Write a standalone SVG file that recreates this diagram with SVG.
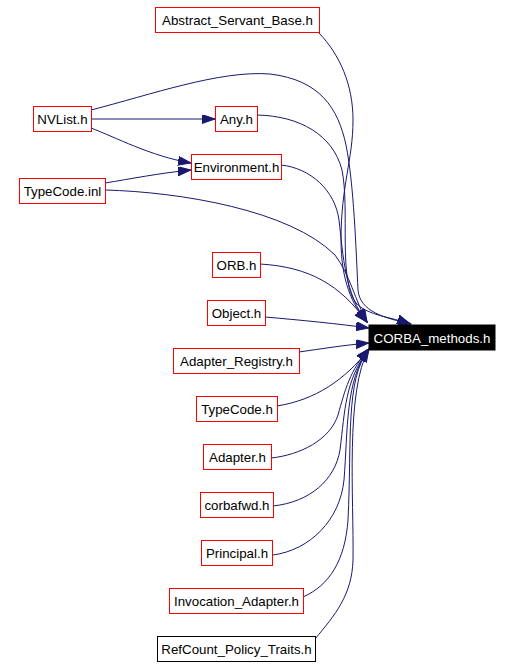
<svg xmlns="http://www.w3.org/2000/svg" width="512" height="667" viewBox="0 0 512 667">
<style>
  .node rect { fill: #ffffff; stroke: #ff0000; stroke-width: 1; }
  .node text { font-family: "Liberation Sans", Arial, sans-serif; font-size: 13.3px; fill: #000000; text-anchor: middle; }
  #n_refcount rect { stroke: #000000; }
  #n_corba rect { fill: #000000; stroke: #000000; }
  #n_corba text { fill: #ffffff; }
  .edges path { fill: none; stroke: #191970; stroke-width: 1; marker-end: url(#arrow); }
</style>
<defs>
  <marker id="arrow" markerUnits="userSpaceOnUse" markerWidth="14" markerHeight="10" refX="13" refY="4.5" orient="auto">
    <polygon points="0,0 13,4.5 0,9" fill="#191970" stroke="#191970" stroke-width="1"/>
  </marker>
</defs>
<rect x="0" y="0" width="512" height="667" fill="#ffffff"/>
<g class="edges" id="edges">
  <path d="M91,119 L215,119"/>
  <path d="M91,128 C115,137 150,156 191,163"/>
  <path d="M105,183 C130,179 160,173 191,170"/>
  <path d="M91,110 C150,95 220,70 270,74 C320,80 338,108 346,145 C354,185 356,250 358,290 C360,312 385,318 411,324"/>
  <path d="M257,115 C300,116 333,135 342,170 C350,210 338,280 356,303 C368,316 392,317 410,324"/>
  <path d="M319,33 C340,55 353,85 353,120 C353,160 341,185 341,240 C341,280 352,305 367,322"/>
  <path d="M281,165 C310,168 335,190 339,220 C343,255 345,295 367,322"/>
  <path d="M105,190 C180,192 290,210 335,255 C350,275 355,300 367,322"/>
  <path d="M260,264 C310,267 340,285 367,322"/>
  <path d="M265,317 C300,320 340,324 369,328"/>
  <path d="M299,352 C320,349 345,345 369,343"/>
  <path d="M277,406 C315,400 345,380 369,349"/>
  <path d="M271,458 C300,455 330,440 338,415 C345,390 350,370 369,349"/>
  <path d="M273,506 C310,502 335,480 340,450 C345,410 345,380 369,349"/>
  <path d="M273,555 C310,550 340,520 344,480 C348,430 345,380 369,349"/>
  <path d="M303,597 C330,585 345,560 348,520 C352,440 345,380 369,349"/>
  <path d="M315,639 C335,615 352,595 353,560 C354,500 345,390 369,349"/>
</g>
<g class="node" id="n_abstract"><rect x="155.5" y="7.5" width="164" height="25"/><text x="237.5" y="25">Abstract_Servant_Base.h</text></g>
<g class="node" id="n_nvlist"><rect x="33.5" y="106.5" width="58" height="25"/><text x="62.5" y="124">NVList.h</text></g>
<g class="node" id="n_any"><rect x="215.5" y="106.5" width="42" height="25"/><text x="236.5" y="124">Any.h</text></g>
<g class="node" id="n_environment"><rect x="191.5" y="154.5" width="90" height="25"/><text x="236.5" y="172">Environment.h</text></g>
<g class="node" id="n_typecodeinl"><rect x="19.5" y="178.5" width="86" height="25"/><text x="62.5" y="196">TypeCode.inl</text></g>
<g class="node" id="n_orb"><rect x="212.5" y="252.5" width="48" height="25"/><text x="236.5" y="270">ORB.h</text></g>
<g class="node" id="n_object"><rect x="207.5" y="300.5" width="58" height="25"/><text x="236.5" y="318">Object.h</text></g>
<g class="node" id="n_adapterreg"><rect x="173.5" y="348.5" width="126" height="25"/><text x="236.5" y="366">Adapter_Registry.h</text></g>
<g class="node" id="n_typecodeh"><rect x="196.5" y="396.5" width="81" height="25"/><text x="237" y="414">TypeCode.h</text></g>
<g class="node" id="n_adapter"><rect x="203.5" y="444.5" width="68" height="25"/><text x="237.5" y="462">Adapter.h</text></g>
<g class="node" id="n_corbafwd"><rect x="200.5" y="492.5" width="73" height="25"/><text x="237" y="510">corbafwd.h</text></g>
<g class="node" id="n_principal"><rect x="201.5" y="540.5" width="71" height="25"/><text x="237" y="558">Principal.h</text></g>
<g class="node" id="n_invocation"><rect x="169.5" y="588.5" width="134" height="25"/><text x="236.5" y="606">Invocation_Adapter.h</text></g>
<g class="node" id="n_refcount"><rect x="157.5" y="636.5" width="158" height="25"/><text x="236.5" y="654">RefCount_Policy_Traits.h</text></g>
<g class="node" id="n_corba"><rect x="369" y="325" width="126" height="25"/><text x="432" y="342.5">CORBA_methods.h</text></g>
</svg>
